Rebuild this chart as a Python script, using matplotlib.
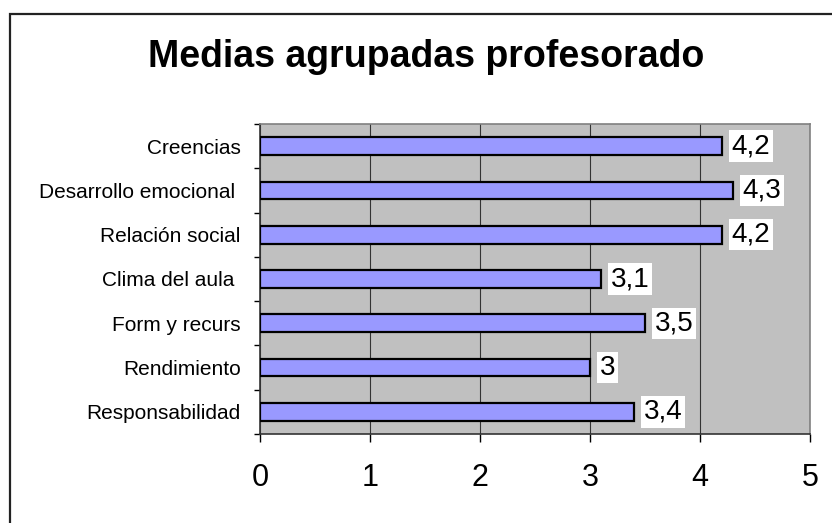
import matplotlib
matplotlib.use("Agg")
import matplotlib.pyplot as plt
from matplotlib.patches import Rectangle

categories = ["Creencias", "Desarrollo emocional ", "Relación social", "Clima del aula ",
              "Form y recurs", "Rendimiento", "Responsabilidad"]
values = [4.2, 4.3, 4.2, 3.1, 3.5, 3.0, 3.4]
value_labels = ["4,2", "4,3", "4,2", "3,1", "3,5", "3", "3,4"]
xticks = [0, 1, 2, 3, 4, 5]

plt.rcParams['font.family'] = ['Liberation Sans', 'DejaVu Sans']

W, H = 832, 523
fig = plt.figure(figsize=(W / 100, H / 100), dpi=100)
fig.patch.set_facecolor("white")

# outer border
fig.add_artist(Rectangle((10 / W, -0.05), 1.2, 1 - 14 / H + 0.05, transform=fig.transFigure,
                         fill=False, edgecolor="#222222", linewidth=1.6))

left, right = 260 / W, 810 / W
top, bottom = 1 - 124 / H, 1 - 434 / H
ax = fig.add_axes([left, bottom, right - left, top - bottom])
ax.set_facecolor("#C0C0C0")

n = len(categories)
ypos = list(range(n))
ax.barh(ypos, values, height=0.4, color="#9999FF", edgecolor="black", linewidth=1.6, zorder=3)

ax.set_xlim(0, 5)
ax.set_ylim(n - 0.5, -0.5)
ax.set_xticks(xticks)
ax.set_xticklabels([str(t) for t in xticks], fontsize=22)
ax.set_yticks(ypos)
ax.set_yticklabels(categories, fontsize=15)
ax.tick_params(axis='y', length=0, pad=14)
ax.tick_params(axis='x', length=6, width=1, pad=15, direction='out')
# y tick marks at boundaries
ax.set_yticks([i - 0.5 for i in range(n + 1)], minor=True)
ax.tick_params(axis='y', which='minor', length=4.5, width=1, direction='out')

ax.xaxis.grid(True, color="#333333", linewidth=0.8, zorder=1)
ax.set_axisbelow(True)

for s in ["top", "right"]:
    ax.spines[s].set_color("#808080")
    ax.spines[s].set_linewidth(1.2)
ax.spines["left"].set_color("#333333")
ax.spines["bottom"].set_color("#333333")
ax.spines["left"].set_linewidth(1.2)
ax.spines["bottom"].set_linewidth(1.2)

for y, v, lab in zip(ypos, values, value_labels):
    ax.annotate(lab, (v, y), xytext=(7, 0), textcoords="offset points",
                ha="left", va="center", fontsize=20, zorder=5,
                bbox=dict(boxstyle="square,pad=0.1", facecolor="white", edgecolor="none"))

fig.text(426 / W, 1 - 57 / H, "Medias agrupadas profesorado", ha="center", va="center",
         fontsize=27, fontweight="bold")

fig.savefig("out.png", dpi=100)
